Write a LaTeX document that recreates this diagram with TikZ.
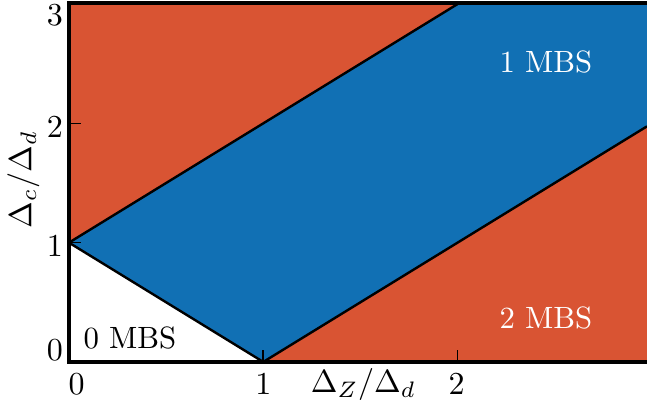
\RequirePackage{fix-cm}
\documentclass[tikz,border=0pt]{standalone}
\usepackage{xcolor}
\definecolor{regred}{RGB}{217,84,51}
\definecolor{regblue}{RGB}{17,112,180}
\begin{document}
\begin{tikzpicture}[x=194.3pt,y=119.3pt,
  lbl/.style={font=\fontsize{10}{12}\selectfont, inner sep=0pt, scale=3.2, transform shape},
  rlbl/.style={font=\fontsize{10}{12}\selectfont, inner sep=0pt, scale=3.08, transform shape},
  axisline/.style={line width=4.2pt},
  bound/.style={line width=2.4pt, line join=round},
  tickmark/.style={line width=1.6pt}]
\useasboundingbox (-0.355,-0.360) rectangle (2.975,3.034);
% regions
\fill[regred] (0,0) rectangle (2.975,3);
\fill[regblue] (0,1) -- (1,0) -- (2.975,1.975) -- (2.975,3) -- (2,3) -- cycle;
\fill[white] (0,0) -- (1,0) -- (0,1) -- cycle;
% boundaries
\draw[bound] (0,1) -- (2,3);
\draw[bound] (1,0) -- (2.975,1.975);
\draw[bound] (0,1) -- (1,0);
% ticks
\draw[tickmark] (0,1) -- ++(12pt,0);
\draw[tickmark] (0,2) -- ++(12pt,0);
\draw[tickmark] (1,0) -- ++(0,12pt);
\draw[tickmark] (2,0) -- ++(0,12pt);
% axes
\draw[axisline] (0,3.01) -- (2.975,3.01);
\draw[axisline, line cap=rect] (0,3.01) -- (0,0) -- (2.975,0);
% tick labels
\node[lbl] (y0) at (-0.072,0.10) {0};
\node[lbl] (y1) at (-0.072,0.97) {1};
\node[lbl] (y2) at (-0.072,1.97) {2};
\node[lbl] (y3) at (-0.072,2.91) {3};
\node[lbl] (x0) at (0.04,-0.184) {0};
\node[lbl] (x1) at (1.0,-0.184) {1};
\node[lbl] (x2) at (1.995,-0.184) {2};
\node[lbl] (xl) at (1.515,-0.19) {$\Delta_Z/\Delta_d$};
\node[lbl, rotate=90] (yl) at (-0.235,1.53) {$\Delta_c/\Delta_d$};
% region labels
\node[rlbl, text=white] (m1) at (2.455,2.517) {1 MBS};
\node[rlbl, text=white] (m2) at (2.455,0.369) {2 MBS};
\node[rlbl] (m0) at (0.314,0.20) {0 MBS};
\end{tikzpicture}
\end{document}
